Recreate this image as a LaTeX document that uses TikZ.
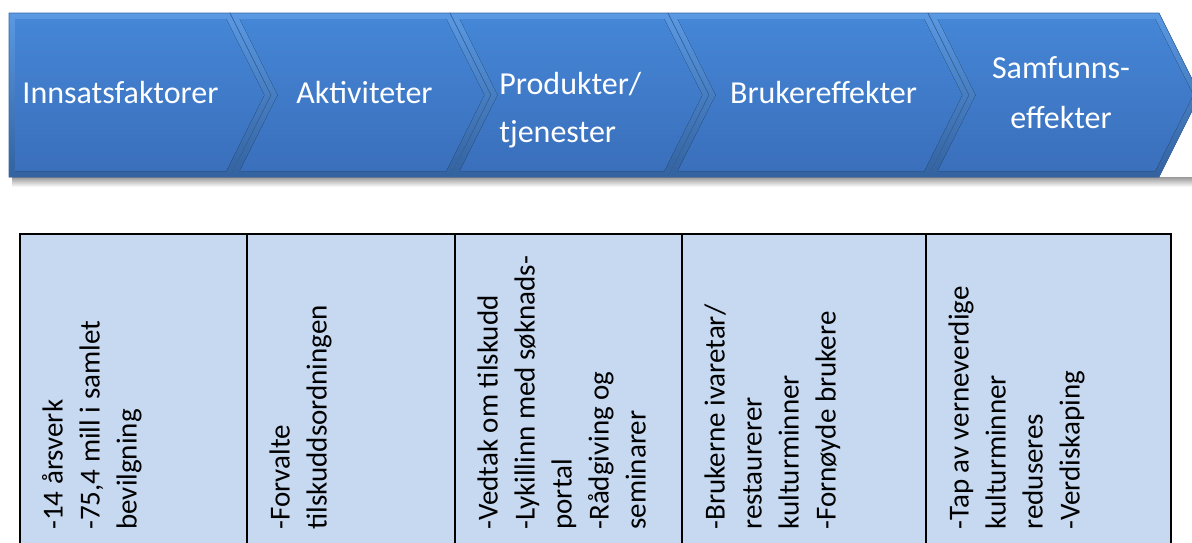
\documentclass[tikz,border=0pt]{standalone}
\usepackage{fontspec}
\setmainfont{Carlito}
\definecolor{bevelhi}{HTML}{5A99E3}
\definecolor{bevello}{HTML}{33629F}
\definecolor{facetop}{HTML}{4586D6}
\definecolor{facebot}{HTML}{3A6FBB}
\definecolor{chevedge}{HTML}{3A68A6}
\definecolor{cellblue}{HTML}{C6D9F1}
\tikzset{
  bevel/.style={top color=bevelhi, bottom color=bevello, draw=chevedge, line width=0.3pt},
  face/.style={top color=facetop, bottom color=facebot},
  headtext/.style={text=white, inner sep=0pt, font=\fontsize{16}{24}\selectfont},
  celltext/.style={rotate=90, anchor=base west, align=left, inner sep=0pt, font=\fontsize{14.5}{18.5}\selectfont}
}
\begin{document}
\begin{tikzpicture}[x=0.5pt,y=-0.5pt]
  \useasboundingbox (0,0) rectangle (1192,542);
  \clip (0,0) rectangle (1192,542);

  % shadow under the bar
  \fill[top color=black!40, bottom color=white] (12,177) rectangle (1192,187);

  % chevrons
  \fill[bevel] (9,13) -- (230,13) -- (271,95) -- (230,177) -- (9,177) -- cycle;
  \fill[face] (15,19) -- (226.3,19) -- (264.3,95) -- (226.3,171) -- (15,171) -- cycle;

  \fill[bevel] (230,13) -- (450,13) -- (491,95) -- (450,177) -- (230,177) -- (271,95) -- cycle;
  \fill[face] (239.7,19) -- (446.3,19) -- (484.3,95) -- (446.3,171) -- (239.7,171) -- (277.7,95) -- cycle;

  \fill[bevel] (450,13) -- (668,13) -- (709,95) -- (668,177) -- (450,177) -- (491,95) -- cycle;
  \fill[face] (459.7,19) -- (664.3,19) -- (702.3,95) -- (664.3,171) -- (459.7,171) -- (497.7,95) -- cycle;

  \fill[bevel] (668,13) -- (928,13) -- (969,95) -- (928,177) -- (668,177) -- (709,95) -- cycle;
  \fill[face] (677.7,19) -- (924.3,19) -- (962.3,95) -- (924.3,171) -- (677.7,171) -- (715.7,95) -- cycle;

  \fill[bevel] (928,13) -- (1159,13) -- (1200,95) -- (1159,177) -- (928,177) -- (969,95) -- cycle;
  \fill[face] (937.7,19) -- (1155.3,19) -- (1193.3,95) -- (1155.3,171) -- (937.7,171) -- (975.7,95) -- cycle;

  % chevron labels (base = last line)
  \node[headtext, anchor=base] (innsats) at (120.5,103) {Innsatsfaktorer};
  \node[headtext, anchor=base] (aktiv) at (364.5,103) {Aktiviteter};
  \node[headtext, anchor=base west, align=left] (produkt) at (499,142) {Produkter/\\tjenester};
  \node[headtext, anchor=base] (bruker) at (823.5,103) {Brukereffekter};
  \node[headtext, anchor=base, align=center, font=\fontsize{16}{25}\selectfont] (samfunn) at (1061,128) {Samfunns-\\effekter};

  % table
  \draw[line width=1.3pt, fill=cellblue] (20,234) rectangle (1171,600);
  \draw[line width=1.3pt] (247,234) -- (247,600);
  \draw[line width=1.3pt] (455,234) -- (455,600);
  \draw[line width=1.3pt] (682,234) -- (682,600);
  \draw[line width=1.3pt] (926,234) -- (926,600);

  % cell texts, placed at the baseline of the last line
  \node[celltext] (celleinnsats) at (136.5,530) {-14 årsverk\\-75,4 mill i samlet\\bevilgning};
  \node[celltext] (celleaktiv) at (326.5,530) {-Forvalte\\tilskuddsordningen};
  \node[celltext] (celleprodukt) at (645.5,530) {-Vedtak om tilskudd\\-Lykillinn med søknads-\\portal\\-Rådgiving og\\seminarer};
  \node[celltext] (cellebruker) at (835.5,530) {-Brukerne ivaretar/\\restaurerer\\kulturminner\\-Fornøyde brukere};
  \node[celltext] (cellesamfunn) at (1079.5,530) {-Tap av verneverdige\\kulturminner\\reduseres\\-Verdiskaping};
\end{tikzpicture}
\end{document}
